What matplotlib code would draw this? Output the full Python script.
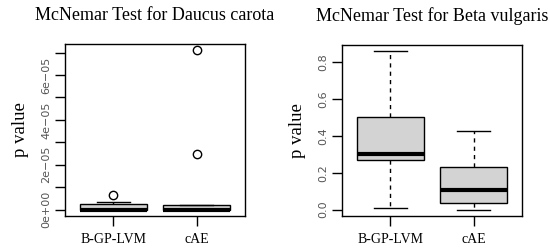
import matplotlib
matplotlib.use("Agg")
import matplotlib.pyplot as plt

# Box statistics (R boxplot style)
groups = ["B-GP-LVM", "cAE"]

# Daucus carota
dc_low = [0.0, 0.0]
dc_q1 = [0.0, 0.0]
dc_med = [0.0, 0.0]
dc_q3 = [0.24e-5, 0.19e-5]
dc_high = [0.32e-5, 0.19e-5]
dc_fliers = [[0.65e-5], [2.49e-5, 7.1e-5]]

# Beta vulgaris
bv_low = [0.007, 0.0]
bv_q1 = [0.268, 0.038]
bv_med = [0.30, 0.108]
bv_q3 = [0.504, 0.230]
bv_high = [0.857, 0.425]
bv_fliers = [[], []]

serif = "Liberation Serif"
sans = "DejaVu Sans"


def make_stats(low, q1, med, q3, high, fliers):
    stats = []
    for i in range(len(groups)):
        stats.append(dict(label=groups[i], whislo=low[i], q1=q1[i], med=med[i],
                          q3=q3[i], whishi=high[i], fliers=fliers[i]))
    return stats


def draw_panel(ax, stats, title, yticks, yticklabels, minor=None):
    ax.bxp(stats, positions=[1, 2], widths=0.8, patch_artist=True,
           boxprops=dict(facecolor="#d3d3d3", edgecolor="black", linewidth=1),
           medianprops=dict(color="black", linewidth=3, solid_capstyle="butt"),
           whiskerprops=dict(color="black", linestyle=(0, (3, 3)), linewidth=1),
           capprops=dict(color="black", linewidth=1),
           capwidths=0.4,
           flierprops=dict(marker="o", markerfacecolor="none", markeredgecolor="black",
                           markersize=6, markeredgewidth=1))
    vals = []
    for s in stats:
        vals += [s["whislo"], s["whishi"]] + list(s["fliers"])
    lo, hi = min(vals), max(vals)
    pad = (hi - lo) * 0.04
    ax.set_ylim(lo - pad, hi + pad)
    ax.set_xlim(0.42, 2.58)
    ticks = list(yticks) + (list(minor) if minor else [])
    labels = list(yticklabels) + ([""] * len(minor) if minor else [])
    ax.set_yticks(ticks)
    ax.set_yticklabels(labels, rotation=90, va="center", family=sans,
                       fontsize=8, color="#555555")
    ax.set_xticks([1, 2])
    ax.set_xticklabels(groups, family=serif, fontsize=10)
    ax.tick_params(axis="both", length=7, width=1, direction="out", pad=5)
    ax.tick_params(axis="y", pad=3)
    ax.set_ylabel("p value", family=serif, fontsize=13.5, labelpad=9)
    for sp in ax.spines.values():
        sp.set_linewidth(1)
    ax.set_title(title, family=serif, fontsize=13, pad=17)


fig = plt.figure(figsize=(5.5, 2.49), dpi=100)
W, H = 550, 249
ax1 = fig.add_axes([65 / W, 1 - 216 / H, 180 / W, 172 / H])
ax2 = fig.add_axes([342 / W, 1 - 216 / H, 180 / W, 171 / H])

draw_panel(ax1, make_stats(dc_low, dc_q1, dc_med, dc_q3, dc_high, dc_fliers),
           "McNemar Test for Daucus carota",
           [0, 2e-5, 4e-5, 6e-5], ["0e+00", "2e\u221205", "4e\u221205", "6e\u221205"],
           minor=[1e-5, 3e-5, 5e-5, 7e-5])
draw_panel(ax2, make_stats(bv_low, bv_q1, bv_med, bv_q3, bv_high, bv_fliers),
           "McNemar Test for Beta vulgaris",
           [0, 0.2, 0.4, 0.6, 0.8], ["0.0", "0.2", "0.4", "0.6", "0.8"])

fig.savefig("out.png", dpi=100)
